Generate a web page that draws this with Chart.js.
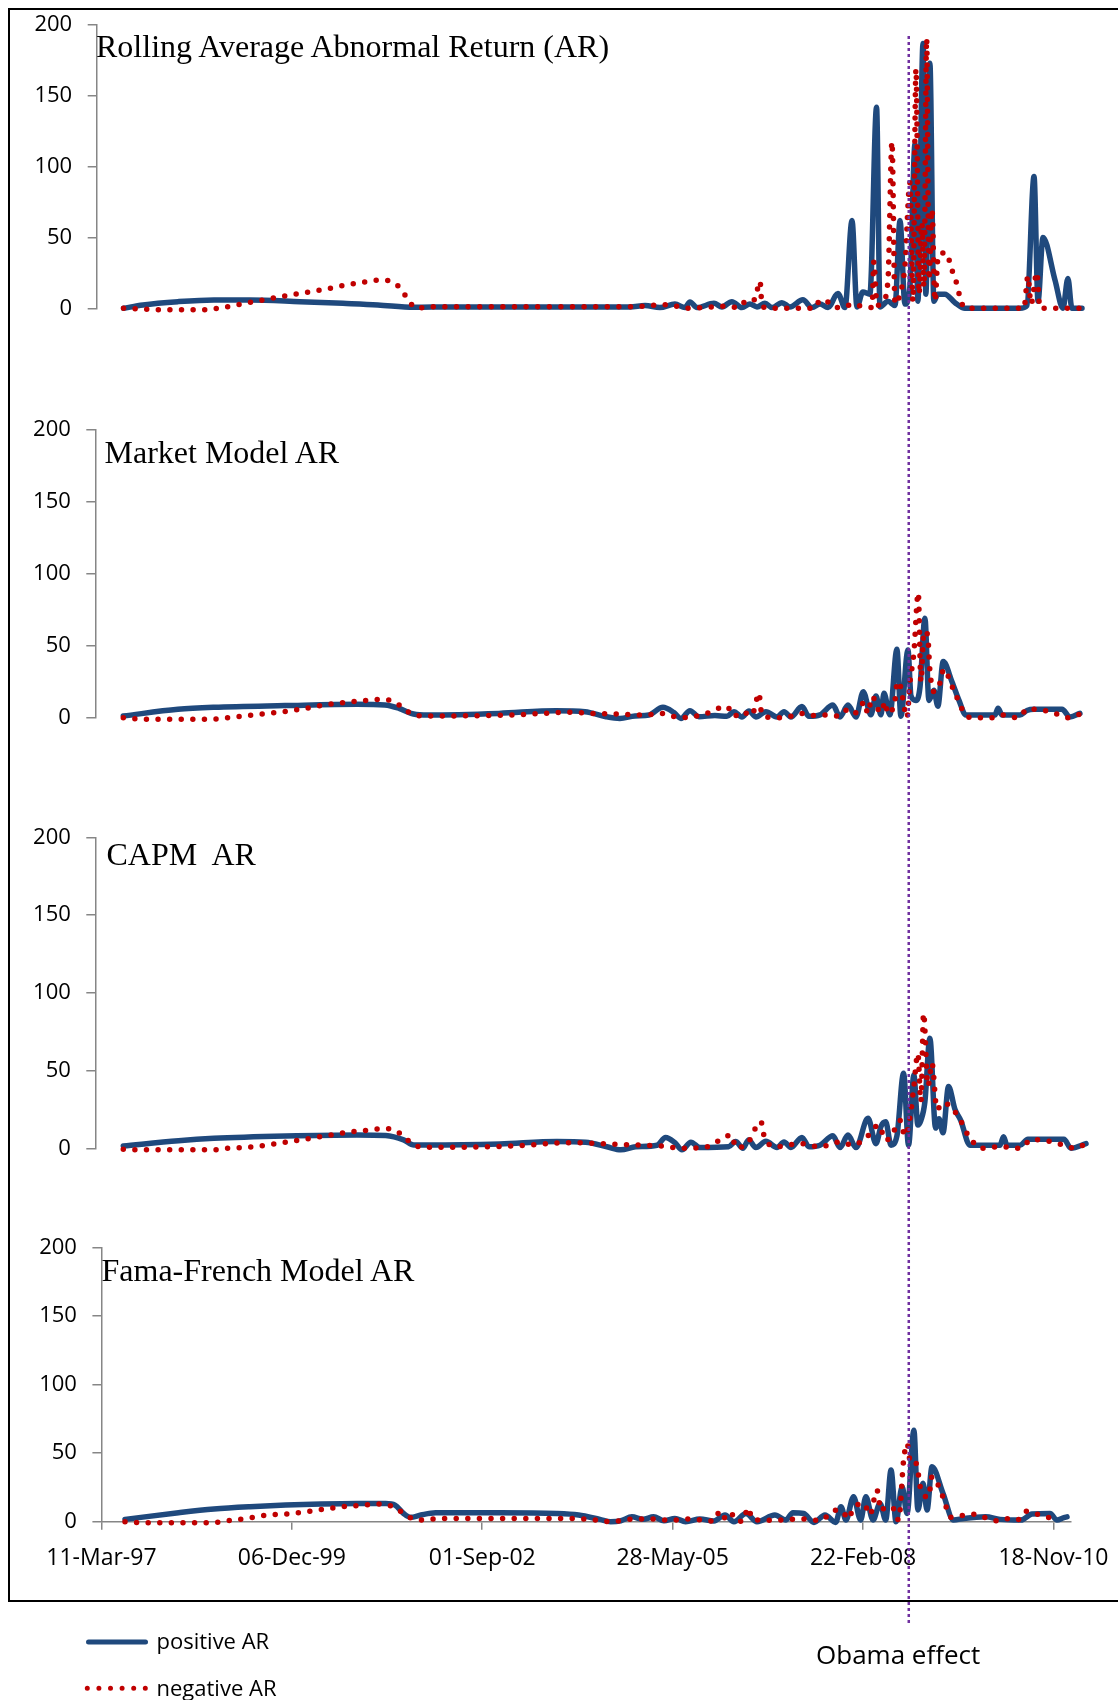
<!DOCTYPE html>
<html>
<head>
<meta charset="utf-8">
<script src="https://cdn.jsdelivr.net/npm/chart.js"></script>
<style>
html,body{margin:0;padding:0;background:#fff;width:1118px;height:1700px;overflow:hidden;position:relative;}
.frame{position:absolute;left:8px;top:8px;width:1200px;height:1593.5px;border:2px solid #000;box-sizing:border-box;}
canvas{position:absolute;left:0;}
.title{position:absolute;font-family:"Liberation Serif","Times New Roman",serif;font-size:32px;line-height:32px;white-space:pre;color:#000;}
.txt{position:absolute;font-family:"Open Sans",sans-serif;white-space:pre;color:#000;}
</style>
</head>
<body>
<div class="frame"></div>
<canvas id="c1" width="1118" height="400" style="top:0px"></canvas>
<canvas id="c2" width="1118" height="420" style="top:400px"></canvas>
<canvas id="c3" width="1118" height="410" style="top:820px"></canvas>
<canvas id="c4" width="1118" height="470" style="top:1230px"></canvas>

<div class="title" style="left:96px;top:29.9px">Rolling Average Abnormal Return (AR)</div>
<div class="title" style="left:104.5px;top:435.5px">Market Model AR</div>
<div class="title" style="left:106.5px;top:837.5px">CAPM  AR</div>
<div class="title" style="left:101.5px;top:1253.9px">Fama-French Model AR</div>

<svg style="position:absolute;left:0;top:1620px" width="200" height="80">
  <line x1="88.5" y1="22" x2="145.5" y2="22" stroke="#1F497D" stroke-width="5" stroke-linecap="round"/>
  <line x1="87.3" y1="68.3" x2="147" y2="68.3" stroke="#C00000" stroke-width="5" stroke-dasharray="0 11.6" stroke-linecap="round"/>
</svg>
<div class="txt" style="left:156.5px;top:1628.8px;font-size:22px;line-height:22px">positive AR</div>
<div class="txt" style="left:156.5px;top:1675.5px;font-size:22px;line-height:22px">negative AR</div>
<div class="txt" style="left:816px;top:1640.9px;font-size:26px;line-height:26px">Obama effect</div>

<script>
// ---- x axis: days counted from 11-Mar-97 ----
const tickDays = [0, 1000, 2000, 3000, 4000, 5000];
const tickLabels = ['11-Mar-97', '06-Dec-99', '01-Sep-02', '28-May-05', '22-Feb-08', '18-Nov-10'];
const obamaDay = 4240;

// ---- Rolling Average AR ----
const rollingPosDays = [116,218,402,591,780,1043,1268,1452,1641,1830,2356,2776,2855,2933,3012,3065,3091,3128,3217,3259,3311,3364,3406,3443,3485,3522,3574,3616,3684,3732,3774,3816,3868,3905,3942,3968,3999,4036,4071,4089,4131,4168,4194,4220,4246,4273,4288,4315,4330,4351,4372,4393,4430,4483,4535,4824,4861,4898,4919,4945,5008,5050,5076,5097,5150];
const rollingPosAR = [0,2.4,4.7,5.9,5.9,4.7,3.5,2.4,0.7,1,1,1,2,0.5,3,0.5,4.5,0.5,3.5,1,4.7,0.5,3,1,3.5,0.5,4,1,6,0.5,3,0.5,10.5,0.5,62,1,11.5,10,142,1,5,2,62,3,15,116,5,187,10,173,5,10,10,4,0,0,2,93,5,50,20,0,21,0,0];
const rollingNegDays = [116,333,554,612,801,985,1169,1352,1479,1531,1578,1610,1657,1725,2776,2949,3002,3065,3290,3343,3369,3401,3432,3448,3459,3469,3501,3747,3774,3810,3852,3905,3947,3994,4047,4057,4073,4105,4131,4152,4168,4194,4220,4246,4262,4278,4294,4309,4320,4334,4346,4362,4378,4393,4414,4441,4456,4472,4493,4514,4540,4845,4866,4882,4913,4929,5150];
const rollingNegAR = [0,-1,-1,0,4.7,9.2,13.4,18,20,18.3,12.9,5.9,0,1.1,1.1,2.5,2,0,1.5,0.5,3.5,6.6,6,14.8,19,2.5,0,0,5.9,5,0.5,1,3.3,1.2,0.5,33,2,5,20,117.6,3,10,30,88.6,5,169,10,60,15,190.5,20,70,5,35,39,39,32,25,17,5,0,0,22.8,3,25.4,0,0];

// ---- Market Model AR ----
const marketPosDays = [115,402,591,964,1342,1489,1563,1639,1715,2088,2387,2540,2650,2723,2802,2876,2949,3007,3044,3091,3138,3222,3285,3322,3364,3401,3437,3490,3548,3585,3621,3679,3716,3774,3842,3879,3921,3963,4001,4041,4068,4094,4110,4141,4178,4199,4236,4252,4278,4299,4325,4346,4372,4393,4421,4467,4504,4540,4693,4709,4730,4824,4861,4898,5045,5087,5139];
const marketPosAR = [1.2,5.8,7.2,8.4,9.3,8.8,6.5,2.6,1.9,3,4.9,4.2,0.7,-0.5,1.2,1.9,7.2,3.5,-0.5,4.9,0.7,1.5,1,4.2,0.5,4.7,0.5,4.2,0.5,4.2,0.5,7.7,1,2,8.8,0.5,8.8,0.5,18,2,15,2,17,2,47.5,1,47,15,12,21,69,12,19,8,39,25,12,1.9,1.9,6.5,1.9,1.9,5,5.8,5.8,0.5,3];
const marketNegDays = [115,218,591,664,796,927,1043,1169,1305,1416,1479,1536,1587,1639,1715,2161,2314,2461,2576,2686,2855,2933,3044,3154,3285,3322,3364,3416,3443,3453,3466,3490,3585,3679,3735,3777,3826,3874,3916,3947,3984,4005,4026,4047,4068,4089,4120,4126,4168,4173,4189,4205,4231,4246,4267,4290,4304,4320,4339,4351,4372,4399,4425,4456,4477,4504,4530,4572,4630,4698,4745,4808,4850,4871,4908,4966,5029,5081,5139];
const marketNegAR = [0,-1,-1,0,1.9,3.7,5.8,8.8,11,12.3,12.8,11,6.5,1.9,1.2,1.9,3,3.7,3,2.6,1.9,3,0,1.9,7.7,1,4.2,1.5,13.5,17,4,0.5,0,3,1.5,1.8,1.8,1,5.3,2.5,6.5,11,3,14.6,10.4,3.5,11,3,12,19.7,25,16,0,23.8,45,86.7,25,60,57.6,33,18,22,33.7,26,18.6,11,3.4,0,0,0,2,0,4.6,6.5,5.5,4.6,2,0,2.5];

// ---- CAPM AR ----
const capmPosDays = [115,405,591,968,1342,1493,1587,1641,1718,2093,2392,2543,2655,2728,2806,2918,2963,3012,3049,3096,3143,3294,3331,3369,3399,3437,3490,3548,3585,3621,3679,3716,3774,3842,3879,3921,3963,4026,4068,4094,4119,4147,4178,4213,4239,4267,4288,4304,4325,4351,4381,4399,4420,4449,4483,4513,4561,4719,4738,4756,4824,4866,5055,5092,5171];
const capmPosAR = [1.5,4.9,6.4,7.9,8.6,8.2,5.4,2.1,2.1,2.8,4.3,3.9,1,-1,1,2,7,3.6,-1,3.9,0.5,1,4.3,0,5.4,0.5,4.5,0.5,4,0.5,7,1,2,8,0.5,8.5,0.5,19.3,3,14,17,2,8,48.3,2,47.2,15,18,30,70.8,13,19,10,39.7,25,18,2,2,7.5,2,2,5.8,5.8,0,3];
const capmNegDays = [115,218,591,664,799,930,1043,1174,1305,1416,1482,1542,1589,1641,1718,2161,2466,2692,2844,2937,3049,3180,3311,3331,3385,3464,3479,3537,3669,3774,3879,3947,4026,4082,4120,4157,4194,4220,4250,4267,4288,4304,4318,4341,4362,4388,4420,4475,4525,4551,4625,4719,4824,4887,4945,4997,5055,5113,5171];
const capmNegAR = [-0.6,-1,-1,0,1,3.2,5.4,7.9,10.5,11.8,12.7,11.4,7.5,2,0.6,1.5,3.6,2.6,2,1.5,0,1,8.6,0.6,2,17.2,8.6,1,3,1,4,2,8,15,5,10,18,8,22.5,40,61,30,86.9,40,54.7,25,29.4,24.7,15,8.6,0,1,0,5.8,5,4,2,0,3];

// ---- Fama-French Model AR ----
const famaPosDays = [124,405,591,780,968,1153,1342,1493,1542,1587,1624,1678,1755,2093,2392,2506,2618,2674,2728,2786,2844,2900,2954,3012,3068,3143,3217,3275,3322,3385,3443,3537,3594,3632,3688,3742,3800,3856,3884,3910,3950,3987,4015,4052,4089,4119,4147,4173,4205,4231,4267,4288,4315,4336,4362,4420,4475,4530,4644,4719,4829,4887,4982,5018,5055,5071];
const famaPosAR = [1.7,6.5,9.2,10.9,12.1,12.9,13.3,13.3,12.1,6,3.2,4.9,6.5,6.5,6,4.9,1.7,0,0.7,3.6,1.7,3.6,0.7,2.4,0,2,0.5,4.9,0,6,0,4.9,1.2,6.6,6,-0.5,4.9,-0.5,10.9,1.2,18.2,1.2,18.2,1.2,13.3,1.2,37.6,0,25.5,6,66.7,8.5,28,8.5,40,20.6,1.2,2.4,3.6,1.7,1.2,5.6,6,1.2,3,3.5];
const famaNegDays = [124,218,591,628,759,875,1006,1137,1268,1379,1455,1510,1568,1613,1662,1794,2466,2582,2674,2769,2881,2986,3091,3217,3249,3285,3322,3364,3399,3416,3511,3669,3774,3858,3895,3921,3950,4005,4036,4073,4094,4119,4157,4187,4213,4231,4250,4278,4304,4344,4362,4420,4456,4465,4523,4588,4635,4714,4772,4814,4854,4912,4971,5022];
const famaNegAR = [0,-0.7,-0.7,0,2.4,4.9,6,8.5,10.9,12.1,12.9,12.1,7.8,3.6,1.2,2.4,2.4,1.5,0,1.7,2,1,2,0.5,7.8,1,5.7,0,10.1,2,1,2,1,8.4,7.3,2,10,13.3,5,23,8,11,10,1.2,45,57,42.5,42.5,23,18,32.8,18,3.6,3.2,4.5,5.5,3.2,0.6,2.5,1.5,7.7,5.5,3.2,0];

// ---- styles ----
const BLUE = '#1F497D', RED = '#C00000', GREY = '#868686', PURPLE = '#7030A0';
const OBAMA_TOP = 36, OBAMA_BOTTOM = 1626;

function pts(days, vals) { return days.map((d, i) => ({ x: d, y: vals[i] })); }

const obamaLine = {
  id: 'obamaLine',
  afterDatasetsDraw(chart, args, opts) {
    const x = chart.scales.x.getPixelForValue(obamaDay);
    const off = opts.offset;
    const y0 = Math.max(0, OBAMA_TOP - off), y1 = Math.min(chart.height, OBAMA_BOTTOM - off);
    if (y1 <= y0) return;
    const ctx = chart.ctx;
    ctx.save();
    ctx.strokeStyle = PURPLE; ctx.lineWidth = 2.5;
    ctx.setLineDash([3, 3]);
    ctx.lineDashOffset = (y0 + off - OBAMA_TOP);
    ctx.beginPath(); ctx.moveTo(x, y0); ctx.lineTo(x, y1); ctx.stroke();
    ctx.restore();
  }
};

const panels = [
  { id: 'c1', top: 0,    posD: rollingPosDays, posV: rollingPosAR, negD: rollingNegDays, negV: rollingNegAR, axisX: 96.7, areaTop: 25,   padBottom: 91.7,  padRight: 28, xMin: -25, xMax: 5192, showX: false },
  { id: 'c2', top: 400,  posD: marketPosDays,  posV: marketPosAR,  negD: marketNegDays,  negV: marketNegAR,  axisX: 95.3, areaTop: 29.5, padBottom: 102.3, padRight: 28, xMin: -32, xMax: 5192, showX: false },
  { id: 'c3', top: 820,  posD: capmPosDays,    posV: capmPosAR,    negD: capmNegDays,    negV: capmNegAR,    axisX: 95.3, areaTop: 17.3, padBottom: 81.7,  padRight: 28, xMin: -32, xMax: 5192, showX: false },
  { id: 'c4', top: 1230, posD: famaPosDays,    posV: famaPosAR,    negD: famaNegDays,    negV: famaNegAR,    axisX: 101.4, areaTop: 17.3, padBottom: 118.3, padRight: 47, xMin: 0,  xMax: 5092, showX: true }
];

panels.forEach(p => {
  new Chart(document.getElementById(p.id), {
    type: 'line',
    data: {
      datasets: [
        { label: 'negative AR', data: pts(p.negD, p.negV), borderColor: RED, borderWidth: 5.5,
          borderDash: [0, 11.6], borderCapStyle: 'round', borderJoinStyle: 'round',
          cubicInterpolationMode: 'monotone', pointRadius: 0, fill: false, order: 0, clip: 12 },
        { label: 'positive AR', data: pts(p.posD, p.posV), borderColor: BLUE, borderWidth: 5.5,
          borderCapStyle: 'round', borderJoinStyle: 'round',
          cubicInterpolationMode: 'monotone', pointRadius: 0, fill: false, order: 1, clip: 12 }
      ]
    },
    options: {
      responsive: false, animation: false, devicePixelRatio: 1,
      layout: { padding: { left: 0, right: p.padRight, top: p.areaTop, bottom: p.padBottom } },
      plugins: { legend: { display: false }, tooltip: { enabled: false }, obamaLine: { offset: p.top } },
      scales: {
        x: {
          type: 'linear', min: p.xMin, max: p.xMax, display: p.showX,
          afterBuildTicks: s => { s.ticks = tickDays.map(v => ({ value: v })); },
          afterFit: s => { if (p.showX) { s.height = 60; } s.paddingLeft = 0; s.paddingRight = 0; },
          grid: { drawOnChartArea: false, drawTicks: true, tickLength: 8, color: GREY, lineWidth: 1.5 },
          border: { display: true, color: GREY, width: 1.5 },
          ticks: { color: '#000', font: { family: 'Open Sans', size: 23 }, padding: 15,
                   maxRotation: 0, autoSkip: false,
                   callback: v => tickLabels[tickDays.indexOf(v)] }
        },
        y: {
          min: 0, max: 200,
          afterFit: s => { s.width = p.axisX; s.paddingTop = 0; s.paddingBottom = 0; },
          ticks: { stepSize: 50, color: '#000', font: { family: 'Open Sans', size: 22 }, padding: 15.5 },
          grid: { drawOnChartArea: false, tickLength: 9, color: GREY, lineWidth: 1.5 },
          border: { color: GREY, width: 1.5 }
        }
      }
    },
    plugins: [obamaLine]
  });
});
</script>
</body>
</html>
